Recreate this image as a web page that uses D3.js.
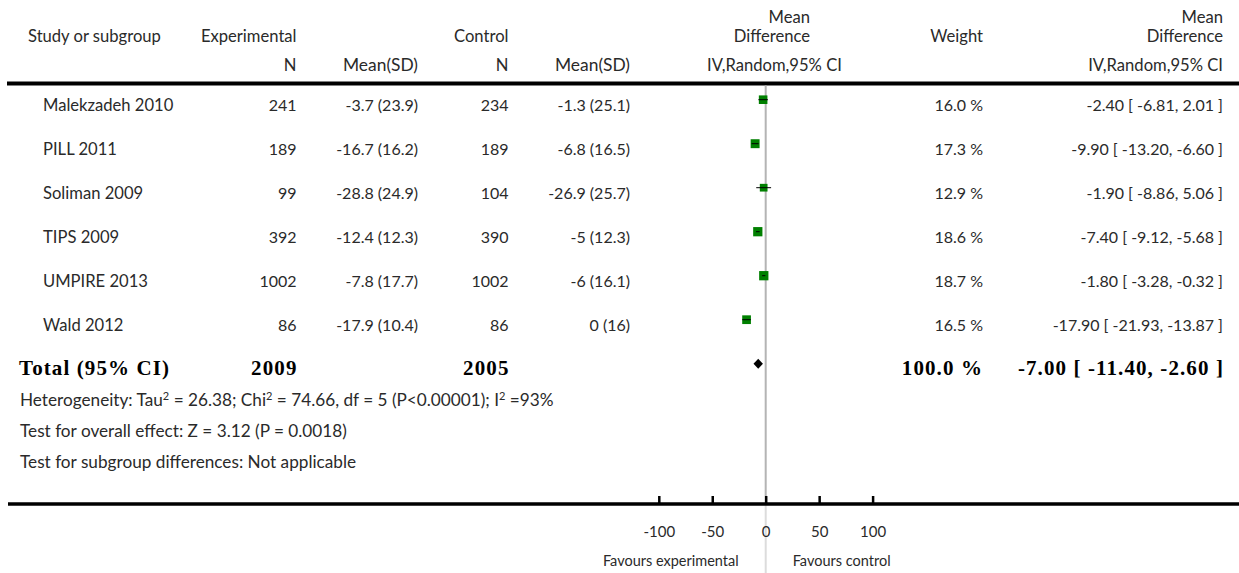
<!DOCTYPE html>
<html>
<head>
<meta charset="utf-8">
<script src="https://cdn.jsdelivr.net/npm/d3@7"></script>
<style>
  html, body { margin: 0; padding: 0; background: #fff; }
  svg { display: block; }
  text { font-family: Lato, "Open Sans", sans-serif; fill: #2a2a2a; }
  .bold { font-family: "Liberation Serif", "Times New Roman", serif; font-weight: bold; fill: #000; }
</style>
</head>
<body>
<svg id="chart" width="1239" height="573"></svg>
<script>
// Study-level data: experimental vs control, mean difference (IV, random, 95% CI)
const studies   = ["Malekzadeh 2010", "PILL 2011", "Soliman 2009", "TIPS 2009", "UMPIRE 2013", "Wald 2012"];
const expN      = [241, 189, 99, 392, 1002, 86];
const expMean   = [-3.7, -16.7, -28.8, -12.4, -7.8, -17.9];
const expSD     = [23.9, 16.2, 24.9, 12.3, 17.7, 10.4];
const ctrlN     = [234, 189, 104, 390, 1002, 86];
const ctrlMean  = [-1.3, -6.8, -26.9, -5, -6, 0];
const ctrlSD    = [25.1, 16.5, 25.7, 12.3, 16.1, 16];
const weights   = [16.0, 17.3, 12.9, 18.6, 18.7, 16.5];
const md        = [-2.40, -9.90, -1.90, -7.40, -1.80, -17.90];
const ciLow     = [-6.81, -13.20, -8.86, -9.12, -3.28, -21.93];
const ciHigh    = [2.01, -6.60, 5.06, -5.68, -0.32, -13.87];

// Pooled estimate
const totalLabel  = "Total (95% CI)";
const totalExpN   = 2009;
const totalCtrlN  = 2005;
const totalWeight = 100.0;
const totalMD     = -7.00;
const totalLow    = -11.40;
const totalHigh   = -2.60;

const axisTicks = [-100, -50, 0, 50, 100];
const footnotes = [
  "Test for overall effect: Z = 3.12 (P = 0.0018)",
  "Test for subgroup differences: Not applicable"
];

const svg = d3.select("#chart");
const W = 1239;

// Scales
const x = d3.scaleLinear().domain([-100, 100]).range([658.8, 872.6]);
const rowY = d3.scaleLinear().domain([0, 6]).range([111, 375]);   // text baselines
const markOffset = 11.3;                                          // mark centre above baseline
const side = d3.scaleSqrt().domain([0, 20]).range([0, 9.6]);

const col = { study: 43, expN: 296.5, expMean: 418, ctrlN: 508.5, ctrlMean: 630, weight: 983, md: 1223 };
const fsWord = 16.6;   // words and headings
const fsNum = 16;      // numeric cells

function txt(xp, yp, s, anchor, size) {
  return svg.append("text").attr("x", xp).attr("y", yp)
    .attr("text-anchor", anchor || "start")
    .style("font-size", (size || fsWord) + "px").text(s);
}

// Header
txt(28, 41.5, "Study or subgroup");
txt(col.expN, 41.5, "Experimental", "end");
txt(col.ctrlN, 41.5, "Control", "end");
txt(810, 22.5, "Mean", "end");
txt(810, 41.5, "Difference", "end");
txt(col.weight, 41.5, "Weight", "end");
txt(col.md, 22.5, "Mean", "end");
txt(col.md, 41.5, "Difference", "end");
txt(col.expN, 71, "N", "end");
txt(col.expMean, 71, "Mean(SD)", "end", 17.4);
txt(col.ctrlN, 71, "N", "end");
txt(col.ctrlMean, 71, "Mean(SD)", "end", 17.4);
txt(774.5, 71, "IV,Random,95% CI", "middle");
txt(col.md, 71, "IV,Random,95% CI", "end");

// Header rule
svg.append("line").attr("x1", 7).attr("x2", W).attr("y1", 83.5).attr("y2", 83.5)
  .attr("stroke", "#000").attr("stroke-width", 4);

// Line of no effect
const axisY = 504;
svg.append("line").attr("x1", x(0)).attr("x2", x(0)).attr("y1", 85.5).attr("y2", axisY)
  .attr("stroke", "#b4b4b4").attr("stroke-width", 2);
svg.append("line").attr("x1", x(0)).attr("x2", x(0)).attr("y1", axisY).attr("y2", 573)
  .attr("stroke", "#dcdcdc").attr("stroke-width", 2);

// Study rows
const fmt2 = v => v.toFixed(2);
studies.forEach((s, i) => {
  const y = rowY(i);
  txt(col.study, y, s);
  txt(col.expN, y, String(expN[i]), "end", fsNum);
  txt(col.expMean, y, `${expMean[i]} (${expSD[i]})`, "end", fsNum);
  txt(col.ctrlN, y, String(ctrlN[i]), "end", fsNum);
  txt(col.ctrlMean, y, `${ctrlMean[i]} (${ctrlSD[i]})`, "end", fsNum);
  txt(col.weight, y, `${weights[i].toFixed(1)} %`, "end", fsNum);
  txt(col.md, y, `${fmt2(md[i])} [ ${fmt2(ciLow[i])}, ${fmt2(ciHigh[i])} ]`, "end", fsNum);
});

// Study marks: weight-scaled squares with CI lines
const marks = svg.append("g");
marks.selectAll("rect").data(studies).join("rect")
  .attr("x", (d, i) => x(md[i]) - side(weights[i]) / 2)
  .attr("y", (d, i) => rowY(i) - markOffset - side(weights[i]) / 2)
  .attr("width", (d, i) => side(weights[i]))
  .attr("height", (d, i) => side(weights[i]))
  .attr("fill", "#008000");
marks.selectAll("line").data(studies).join("line")
  .attr("x1", (d, i) => x(ciLow[i]))
  .attr("x2", (d, i) => x(ciHigh[i]))
  .attr("y1", (d, i) => rowY(i) - markOffset)
  .attr("y2", (d, i) => rowY(i) - markOffset)
  .attr("stroke", "#000").attr("stroke-width", 1);

// Total row
const ty = rowY(6);
function boldTxt(xp, s, anchor) {
  return svg.append("text").attr("class", "bold").attr("x", xp).attr("y", ty)
    .attr("text-anchor", anchor || "start")
    .style("font-size", "21px").style("letter-spacing", "1.1px").text(s);
}
boldTxt(19, totalLabel);
boldTxt(col.expN + 1, String(totalExpN), "end");
boldTxt(col.ctrlN + 1, String(totalCtrlN), "end");
boldTxt(col.weight, `${totalWeight.toFixed(1)} %`, "end");
boldTxt(col.md + 1, `${fmt2(totalMD)} [ ${fmt2(totalLow)}, ${fmt2(totalHigh)} ]`, "end");

const dy = ty - markOffset;
svg.append("path")
  .attr("d", d3.line()([[x(totalLow), dy], [x(totalMD), dy - 5], [x(totalHigh), dy], [x(totalMD), dy + 5]]) + "Z")
  .attr("fill", "#000");

// Heterogeneity and tests
const fsNote = 17.2;
const het = svg.append("text").attr("x", 20).attr("y", 406).style("font-size", fsNote + "px");
het.append("tspan").text("Heterogeneity: Tau");
het.append("tspan").attr("dy", -6).style("font-size", "11px").text("2");
het.append("tspan").attr("dy", 6).text(" = 26.38; Chi");
het.append("tspan").attr("dy", -6).style("font-size", "11px").text("2");
het.append("tspan").attr("dy", 6).text(" = 74.66, df = 5 (P<0.00001); I");
het.append("tspan").attr("dy", -6).style("font-size", "11px").text("2");
het.append("tspan").attr("dy", 6).text(" =93%");
footnotes.forEach((f, i) => {
  svg.append("text").attr("x", 20).attr("y", 437 + i * 30.5).style("font-size", fsNote + "px").text(f);
});

// Axis
svg.append("line").attr("x1", 8).attr("x2", W).attr("y1", axisY).attr("y2", axisY)
  .attr("stroke", "#000").attr("stroke-width", 3.5);
const axis = d3.axisBottom(x).tickValues(axisTicks).tickSize(-8).tickPadding(22)
  .tickFormat(d => String(d));
const ag = svg.append("g").attr("transform", `translate(0,${axisY})`).call(axis);
ag.select(".domain").remove();
ag.selectAll(".tick line").attr("stroke", "#000").attr("stroke-width", 2.5);
ag.selectAll(".tick text").attr("fill", "#2a2a2a")
  .style("font-family", "Lato, sans-serif").style("font-size", "15px");

txt(x(0) - 27, 566, "Favours experimental", "end", 14.5);
txt(x(0) + 27, 566, "Favours control", "start", 14.5);
</script>
</body>
</html>
